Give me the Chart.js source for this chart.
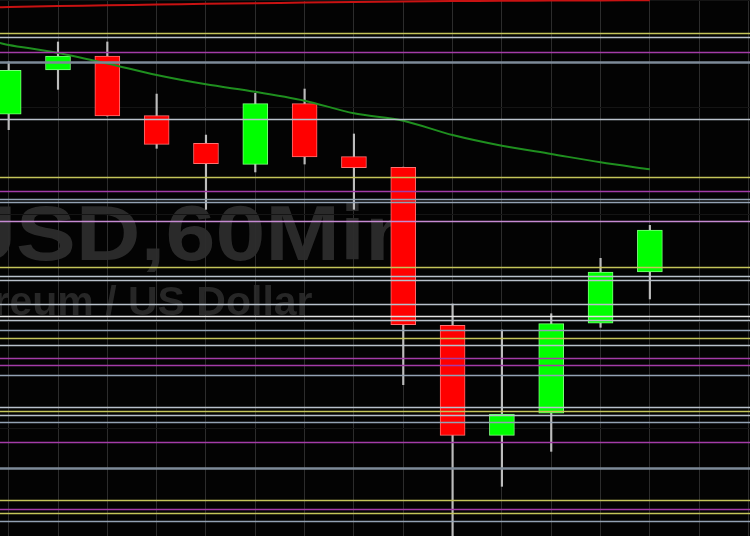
<!DOCTYPE html>
<html>
<head>
<meta charset="utf-8">
<script src="https://cdn.jsdelivr.net/npm/chart.js@4.4.0/dist/chart.umd.min.js"></script>
<style>
  html, body { margin: 0; padding: 0; background: #000; }
  #wrap { width: 750px; height: 536px; }
</style>
</head>
<body>
<div id="wrap"><canvas id="chart"></canvas></div>
<script>
// hourly ETH/USD candles (index of the bar, OHLC)
const bars   = [0, 1, 2, 3, 4, 5, 6, 7, 8, 9, 10, 11, 12, 13];
const opens  = [1898.97, 1903.11, 1904.42, 1898.84, 1896.26, 1894.29, 1899.96, 1895.01, 1894.01, 1879.25, 1868.97, 1871.05, 1879.46, 1884.23];
const highs  = [1903.88, 1905.73, 1905.73, 1900.86, 1897.03, 1900.93, 1901.33, 1897.13, 1894.03, 1881.24, 1878.81, 1880.33, 1885.51, 1888.59];
const lows   = [1897.53, 1901.30, 1898.80, 1895.79, 1890.09, 1893.58, 1894.32, 1890.09, 1873.70, 1858.72, 1864.20, 1867.47, 1879.06, 1881.71];
const closes = [1903.08, 1904.42, 1898.81, 1896.16, 1894.35, 1899.96, 1894.98, 1893.98, 1879.30, 1868.97, 1870.96, 1879.40, 1884.23, 1888.15];

// moving averages
const avgBars  = [-0.2, 0, 1, 2, 3, 4, 5, 6, 7, 8, 9, 10, 11, 12, 13];
const fastAvg  = [1905.66, 1905.45, 1904.70, 1903.72, 1902.64, 1901.77, 1901.08, 1900.24, 1899.06, 1898.37, 1897.03, 1896.03, 1895.26, 1894.48, 1893.83];
const slowAvg  = [1908.97, 1909.00, 1909.08, 1909.15, 1909.22, 1909.29, 1909.35, 1909.41, 1909.47, 1909.52, 1909.55, 1909.58, 1909.60, 1909.61, 1909.62];

// horizontal levels, grouped by the colour they are drawn in
const yellowLevels  = [1906.60, 1893.14, 1884.73, 1878.04, 1871.26, 1862.91, 1861.68];
const magentaLevels = [1904.82, 1891.78, 1876.24, 1875.57, 1868.39, 1862.04];
const violetLevels  = [1889.03];
const steelLevels   = [1891.03, 1890.80, 1878.79, 1874.65, 1870.20, 1860.99];
const heavyLevels   = [1903.89, 1865.93];
const silverLevels  = [1906.22, 1898.53, 1883.89, 1883.49, 1881.22, 1879.79, 1877.38, 1871.59, 1870.85];
const whiteLevels   = [1880.12];

const UP = '#00ff00';
const DOWN = '#ff0000';

const levelStyles = [
  { values: heavyLevels,   color: '#7d8a98', width: 2.5 },
  { values: steelLevels,   color: '#93a2b4', width: 1.4 },
  { values: silverLevels,  color: '#b9c1cb', width: 1.4 },
  { values: whiteLevels,   color: '#e4e4e4', width: 1.4 },
  { values: yellowLevels,  color: '#c4c45a', width: 1.3 },
  { values: magentaLevels, color: '#a43ca8', width: 1.6 },
  { values: violetLevels,  color: '#c68ad2', width: 1.6 },
];

const backdrop = {
  id: 'backdrop',
  beforeDraw(chart) {
    const ctx = chart.ctx;
    ctx.save();
    ctx.fillStyle = '#030303';
    ctx.fillRect(0, 0, chart.width, chart.height);

    // watermark, a bit stretched like the source screenshot
    const sx = 1.15;
    ctx.font = 'bold 78px "Liberation Sans", Arial, sans-serif';
    ctx.fillStyle = '#2a2a2a';
    ctx.textBaseline = 'alphabetic';
    const pre = ctx.measureText('ETHU').width * sx;
    ctx.translate(16 - pre, 260);
    ctx.scale(sx, 1);
    ctx.fillText('ETHUSD,60Min', 0, 0);
    ctx.restore();

    ctx.save();
    ctx.font = 'bold 41px "Liberation Sans", Arial, sans-serif';
    ctx.fillStyle = '#272727';
    const pre2 = ctx.measureText('Ethereum / ').width;
    ctx.fillText('Ethereum / US Dollar', 128 - pre2, 315);
    ctx.restore();
  }
};

const levels = {
  id: 'levels',
  afterDatasetsDraw(chart) {
    const ctx = chart.ctx;
    const y = chart.scales.y;
    const area = chart.chartArea;
    ctx.save();
    levelStyles.forEach((s) => {
      ctx.strokeStyle = s.color;
      ctx.lineWidth = s.width;
      s.values.forEach((v) => {
        const py = Math.round(y.getPixelForValue(v)) + 0.5;
        ctx.beginPath();
        ctx.moveTo(area.left, py);
        ctx.lineTo(area.right, py);
        ctx.stroke();
      });
    });
    ctx.restore();
  }
};

const isUp = bars.map((b, i) => closes[i] >= opens[i]);

new Chart(document.getElementById('chart'), {
  type: 'bar',
  data: {
    datasets: [
      {
        type: 'line',
        data: avgBars.map((b, i) => ({ x: b, y: fastAvg[i] })),
        borderColor: '#1f8f1f',
        borderWidth: 2,
        pointRadius: 0,
        tension: 0.3,
        order: 0,
      },
      {
        type: 'line',
        data: avgBars.map((b, i) => ({ x: b, y: slowAvg[i] })),
        borderColor: '#c81212',
        borderWidth: 2,
        pointRadius: 0,
        tension: 0.3,
        order: 0,
      },
      {
        data: bars.map((b, i) => ({ x: b, y: [opens[i], closes[i]] })),
        backgroundColor: isUp.map((u) => (u ? UP : DOWN)),
        borderColor: isUp.map((u) => (u ? '#7dff7d' : '#ff7070')),
        borderWidth: 1,
        borderSkipped: false,
        barThickness: 25,
        grouped: false,
        order: 1,
      },
      {
        data: bars.map((b, i) => ({ x: b, y: [lows[i], highs[i]] })),
        backgroundColor: '#bcbcbc',
        borderWidth: 0,
        barThickness: 1.5,
        grouped: false,
        order: 2,
      },
    ],
  },
  options: {
    responsive: true,
    maintainAspectRatio: false,
    animation: false,
    layout: { padding: 0 },
    plugins: {
      legend: { display: false },
      tooltip: { enabled: false },
    },
    scales: {
      x: {
        type: 'linear',
        min: -0.176,
        max: 15.03,
        offset: false,
        border: { display: false },
        grid: { color: '#2c2c2c', drawTicks: false, lineWidth: 1, offset: false },
        ticks: { display: false, stepSize: 1, includeBounds: false, padding: 0 },
      },
      y: {
        min: 1859.56,
        max: 1909.65,
        border: { display: false },
        grid: { color: '#141414', drawTicks: false },
        ticks: { display: false, stepSize: 10, includeBounds: false, padding: 0 },
      },
    },
  },
  plugins: [backdrop, levels],
});
</script>
</body>
</html>
